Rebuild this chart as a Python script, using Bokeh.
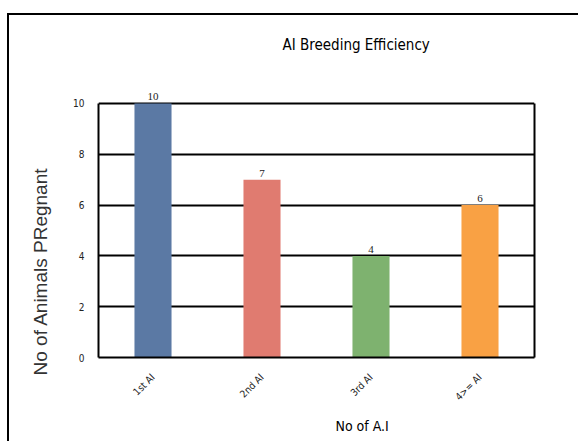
import math
from bokeh.plotting import figure
from bokeh.models import (ColumnDataSource, LabelSet, Title, FactorRange, Range1d,
                          SingleIntervalTicker, FixedTicker, LinearAxis)
from bokeh.embed import file_html
from bokeh.resources import INLINE

categories = ["1st AI", "2nd AI", "3rd AI", "4>= AI"]
pregnant = [10, 7, 4, 6]
colors = ["#5b79a4", "#e07b70", "#7eb26f", "#f9a144"]
title_text = "AI Breeding Efficiency"
x_title = "No of A.I"
y_title = "No of Animals PRegnant"

NARROW = "DejaVu Sans Condensed"

src = ColumnDataSource(dict(cat=categories, val=pregnant, col=colors,
                            lab=[str(v) for v in pregnant]))

p = figure(width=578, height=441, x_range=FactorRange(*categories, range_padding=0),
           y_range=Range1d(0, 10.59), output_backend="svg", toolbar_location=None,
           min_border_left=98, min_border_right=44, min_border_top=88, min_border_bottom=84)
p.styles = {
    "background": ("linear-gradient(#000, #000) 7px 13px / 2px 100% no-repeat, "
                   "linear-gradient(#000, #000) 7px 13px / 100% 2px no-repeat, #fff"),
}
p.border_fill_color = None
p.background_fill_color = "white"
p.outline_line_color = None

p.add_layout(Title(text=title_text, align="left", offset=184, vertical_align="top", standoff=66,
                   text_font=NARROW, text_font_size="15px", text_font_style="normal",
                   text_color="#000000"), "above")

p.vbar(x="cat", top="val", width=0.34, color="col", line_color=None, source=src)

p.xgrid.grid_line_color = None
p.ygrid.grid_line_color = "black"
p.ygrid.grid_line_width = 2

xax = p.xaxis[0]
yax = p.yaxis[0]
yax.ticker = SingleIntervalTicker(interval=2)
yax.bounds = (0, 10)
for ax in (xax, yax):
    ax.axis_line_color = "black"
    ax.axis_line_width = 2
    ax.major_tick_line_color = None
    ax.minor_tick_line_color = None
    ax.major_label_text_font = NARROW
    ax.major_label_text_color = "#222222"

right = LinearAxis(bounds=(0, 10), ticker=FixedTicker(ticks=[]),
                   axis_line_color="black", axis_line_width=2,
                   major_tick_line_color=None, minor_tick_line_color=None)
p.add_layout(right, "right")

yax.major_label_text_font_size = "10px"
yax.major_label_standoff = 8
xax.major_label_text_font_size = "10px"
xax.major_label_orientation = math.pi / 4
xax.major_label_standoff = 12

labels = LabelSet(x="cat", y="val", text="lab", source=src, text_align="center",
                  text_baseline="bottom", y_offset=3, text_font=NARROW,
                  text_font_size="11px", text_color="#222222")
p.add_layout(labels)

p.add_layout(Title(text=x_title, align="left", offset=237, standoff=13,
                   vertical_align="bottom",
                   text_font=NARROW, text_font_size="14px", text_font_style="normal",
                   text_color="#000000"), "below")
p.add_layout(Title(text=y_title, align="left", offset=-18, standoff=39,
                   vertical_align="bottom",
                   text_font="Liberation Sans", text_font_size="19px",
                   text_font_style="normal", text_color="#333333"), "left")

open("out.html", "w").write(file_html(p, INLINE))
